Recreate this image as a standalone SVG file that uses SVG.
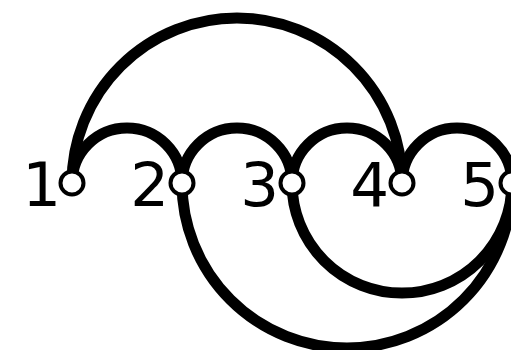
<svg xmlns="http://www.w3.org/2000/svg" width="511" height="350" viewBox="0 0 511 350">
<style>
.arc{fill:none;stroke:#000;stroke-width:11}
.node{fill:#fff;stroke:#000;stroke-width:4}
.lbl{font-family:"DejaVu Sans",sans-serif;font-size:61px;fill:#000;text-anchor:end}
</style>
<rect width="511" height="350" fill="#fff"/>
<g id="connectors">
<path class="arc" d="M72 183 A165 165 0 0 1 402 183"/>
<path class="arc" d="M72 183 A55 55 0 0 1 182 183"/>
<path class="arc" d="M182 183 A55 55 0 0 1 292 183"/>
<path class="arc" d="M292 183 A55 55 0 0 1 402 183"/>
<path class="arc" d="M402 183 A55 55 0 0 1 512 183"/>
<path class="arc" d="M182 183 A165 165 0 0 0 512 183"/>
<path class="arc" d="M292 183 A110 110 0 0 0 512 183"/>
</g>
<g id="n1"><circle class="node" cx="72" cy="183" r="11.5"/><text class="lbl" x="61" y="206">1</text></g>
<g id="n2"><circle class="node" cx="182" cy="183" r="11.5"/><text class="lbl" x="169" y="206">2</text></g>
<g id="n3"><circle class="node" cx="292" cy="183" r="11.5"/><text class="lbl" x="279" y="206">3</text></g>
<g id="n4"><circle class="node" cx="402" cy="183" r="11.5"/><text class="lbl" x="389" y="206">4</text></g>
<g id="n5"><circle class="node" cx="512" cy="183" r="11.5"/><text class="lbl" x="499" y="206">5</text></g>
</svg>
